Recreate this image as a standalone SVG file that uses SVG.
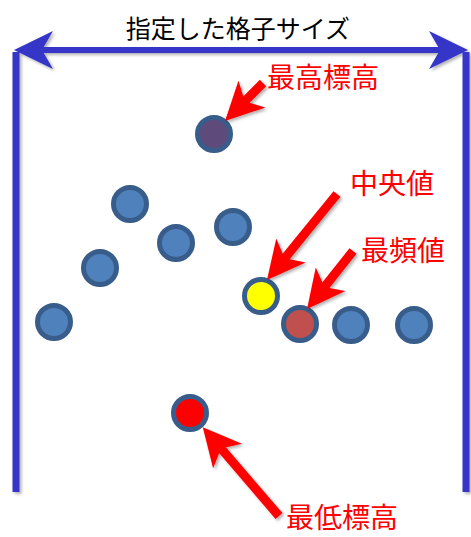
<svg xmlns="http://www.w3.org/2000/svg" width="471" height="537" viewBox="0 0 471 537">
<style>
.lbl{font-family:"Noto Sans CJK JP","Noto Sans",sans-serif;font-size:28px;fill:#FF0000}
.ttl{font-family:"Noto Sans CJK JP","Noto Sans",sans-serif;font-size:25px;fill:#000}
.dot{stroke:#385D8A;stroke-width:5;fill:#4F81BD}
.blue{stroke:#3535C8;stroke-width:7;fill:none}
.red{stroke:#FF0000;stroke-width:9;fill:none}
</style>
<defs>
<filter id="sh" x="-20%" y="-20%" width="140%" height="140%">
<feDropShadow dx="2" dy="2" stdDeviation="1.5" flood-color="#000" flood-opacity="0.3"/>
</filter>
<marker id="stealth" viewBox="0 0 38 38" refX="12" refY="19" markerWidth="38" markerHeight="38" markerUnits="userSpaceOnUse" orient="auto">
<path d="M38,19 L0,0 L10,19 L0,38 Z" fill="#FF0000"/>
</marker>
</defs>
<text class="ttl" x="238" y="38" text-anchor="middle">指定した格子サイズ</text>
<g id="frame" filter="url(#sh)">
<line class="blue" x1="16" y1="52" x2="16" y2="492"/>
<line class="blue" x1="466" y1="52" x2="466" y2="492"/>
<line x1="42" y1="50" x2="440" y2="50" stroke="#3535C8" stroke-width="6"/>
<path d="M14,50 L53,31 L42,50 L53,69 Z" fill="#3535C8"/>
<path d="M468,50 L429,31 L440,50 L429,69 Z" fill="#3535C8"/>
</g>
<g id="n1"><circle class="dot" cx="214" cy="134" r="16.5" style="fill:#5F4B7B"/></g>
<g id="n2"><circle class="dot" cx="130" cy="204" r="16.5"/></g>
<g id="n3"><circle class="dot" cx="176" cy="243" r="16.5"/></g>
<g id="n4"><circle class="dot" cx="233" cy="227" r="16.5"/></g>
<g id="n5"><circle class="dot" cx="100" cy="268" r="16.5"/></g>
<g id="n6"><circle class="dot" cx="54" cy="322" r="16.5"/></g>
<g id="n7"><circle class="dot" cx="261" cy="296" r="16.5" style="fill:#FFFF00"/></g>
<g id="n8"><circle class="dot" cx="300" cy="324" r="16.5" style="fill:#C0504D"/></g>
<g id="n9"><circle class="dot" cx="351" cy="325" r="16.5"/></g>
<g id="n10"><circle class="dot" cx="414" cy="325" r="16.5"/></g>
<g id="n11"><circle class="dot" cx="190" cy="413" r="16.5" style="fill:#FF0000"/></g>
<g id="connectors" filter="url(#sh)">
<line class="red" x1="263" y1="83" x2="243.4" y2="102.6" marker-end="url(#stealth)"/>
<line class="red" x1="337" y1="194" x2="283.4" y2="259.8" marker-end="url(#stealth)"/>
<line class="red" x1="353" y1="251" x2="323.2" y2="288.6" marker-end="url(#stealth)"/>
<line class="red" x1="279" y1="516" x2="219.7" y2="446.9" marker-end="url(#stealth)"/>
</g>
<g id="labels">
<text class="lbl" x="286" y="528">最低標高</text>
<text class="lbl" x="267" y="88">最高標高</text>
<text class="lbl" x="350" y="194">中央値</text>
<text class="lbl" x="361" y="261">最頻値</text>
</g>
</svg>
